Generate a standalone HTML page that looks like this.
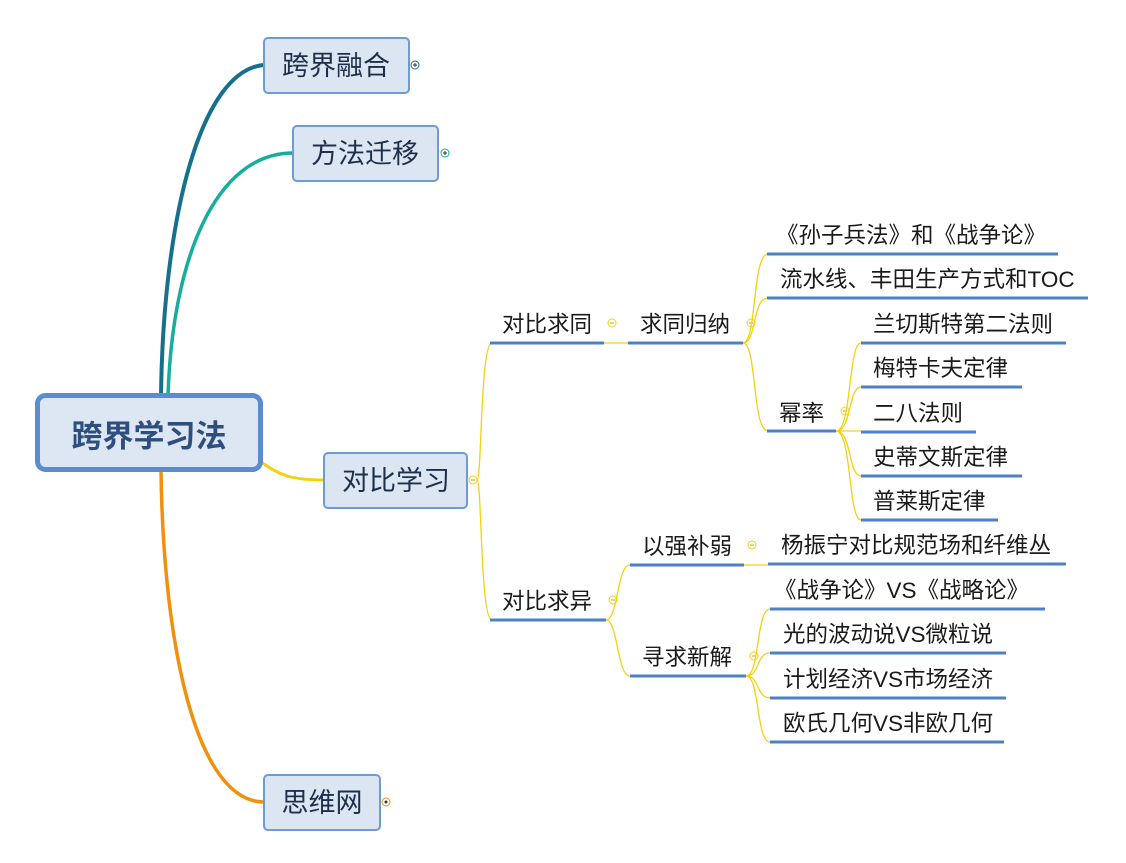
<!DOCTYPE html>
<html><head><meta charset="utf-8">
<style>
html,body{margin:0;padding:0;background:#fff;}
svg{display:block;}
text{font-family:"Liberation Sans","Noto Sans CJK SC",sans-serif;fill:#1a1a1a;}
</style></head>
<body>
<svg width="1126" height="863" viewBox="0 0 1126 863" xmlns="http://www.w3.org/2000/svg">
<!-- main branches -->
<path d="M161 397 C163 220 200 70 264 65" fill="none" stroke="#17708b" stroke-width="4"/>
<path d="M168 397 C172 260 215 153 293 153" fill="none" stroke="#17ad9c" stroke-width="3.5"/>
<path d="M161 470 C163 640 195 802 264 802" fill="none" stroke="#f0900c" stroke-width="3.5"/>
<path d="M261 462 C280 475 290 480 324 480" fill="none" stroke="#f5d010" stroke-width="3"/>

<!-- central -->
<rect x="37.5" y="395.5" width="223" height="74" rx="8" fill="#dde7f3" stroke="#5a8ccf" stroke-width="5"/>
<text x="149" y="447" font-size="31" font-weight="bold" text-anchor="middle" style="fill:#2e4f7e">跨界学习法</text>

<!-- topics -->
<g stroke="#6e9bd3" stroke-width="2" fill="#dce6f2">
<rect x="264" y="38" width="145" height="55" rx="4"/>
<rect x="293" y="126" width="145" height="55" rx="4"/>
<rect x="324" y="453" width="143" height="55" rx="4"/>
<rect x="264" y="775" width="116" height="55" rx="4"/>
</g>
<g font-size="27" text-anchor="middle">
<text x="336" y="75" style="fill:#1f2f4a">跨界融合</text>
<text x="365" y="163" style="fill:#1f2f4a">方法迁移</text>
<text x="396" y="490" style="fill:#1f2f4a">对比学习</text>
<text x="322" y="812" style="fill:#1f2f4a">思维网</text>
</g>
<!-- icons -->
<g fill="#fff" stroke-width="1">
<circle cx="415" cy="65" r="4" stroke="#17708b"/>
<circle cx="445" cy="153" r="4" stroke="#17ad9c"/>
<circle cx="386" cy="802" r="4" stroke="#f0900c"/>
<circle cx="473" cy="480" r="4" stroke="#f5d010"/>
<circle cx="612" cy="323" r="4" stroke="#f5d010"/>
<circle cx="613" cy="600" r="4" stroke="#f5d010"/>
<circle cx="751" cy="323" r="4" stroke="#f5d010"/>
<circle cx="845" cy="411" r="4" stroke="#f5d010"/>
<circle cx="752" cy="545" r="4" stroke="#f5d010"/>
<circle cx="754" cy="656" r="4" stroke="#f5d010"/>
</g>
<g stroke="#333" stroke-width="1">
<path d="M413 65h4M415 63v4M443 153h4M445 151v4"/>
</g>
<g fill="#333"><circle cx="386" cy="802" r="1.5"/></g>
<g stroke="#c9a800" stroke-width="1">
<path d="M471 480h4M610 323h4M611 600h4M749 323h4M843 411h4M750 545h4M752 656h4"/>
</g>

<!-- yellow connectors -->
<g fill="none" stroke="#f5d010" stroke-width="1.3">
<path d="M477 480 C482 480 480 343 492 343"/>
<path d="M477 480 C482 480 480 620 492 620"/>
<path d="M604 343 H628"/>
<path d="M606 620 C618 620 617 565 630 565"/>
<path d="M606 620 C618 620 617 676 630 676"/>
<path d="M743 343 C757 343 752 254 768 254"/>
<path d="M743 343 C757 343 752 298 768 298"/>
<path d="M743 343 C757 343 752 431 768 431"/>
<path d="M836 431 C852 431 848 343 861 343"/>
<path d="M836 431 C852 431 848 387 861 387"/>
<path d="M836 431 H861"/>
<path d="M836 431 C852 431 848 476 861 476"/>
<path d="M836 431 C852 431 848 520 861 520"/>
<path d="M744 565 H768"/>
<path d="M746 676 C760 676 756 609 770 609"/>
<path d="M746 676 C760 676 756 653 770 653"/>
<path d="M746 676 C760 676 756 698 770 698"/>
<path d="M746 676 C760 676 756 742 770 742"/>
</g>

<!-- underlines -->
<g stroke="#4d80c4" stroke-width="3">
<path d="M490 343H604M490 620H606M628 343H743M630 565H744M630 676H746"/>
<path d="M767 254H1058M767 298H1088M767 431H836"/>
<path d="M861 343H1066M861 387H1022M861 432H976M861 476H1022M861 520H998"/>
<path d="M768 564H1066M770 609H1045M770 653H1006M770 698H1006M770 742H1004"/>
</g>

<!-- labels -->
<g font-size="22.5">
<text x="502" y="332">对比求同</text>
<text x="502" y="609">对比求异</text>
<text x="640" y="332">求同归纳</text>
<text x="642" y="554">以强补弱</text>
<text x="642" y="665">寻求新解</text>
<text x="776" y="243">《孙子兵法》和《战争论》</text>
<text x="780" y="287">流水线、丰田生产方式和TOC</text>
<text x="779" y="421">幂率</text>
<text x="873" y="332">兰切斯特第二法则</text>
<text x="873" y="376">梅特卡夫定律</text>
<text x="873" y="421">二八法则</text>
<text x="873" y="465">史蒂文斯定律</text>
<text x="873" y="509">普莱斯定律</text>
<text x="781" y="553">杨振宁对比规范场和纤维丛</text>
<text x="774" y="598">《战争论》VS《战略论》</text>
<text x="783" y="642">光的波动说VS微粒说</text>
<text x="783" y="687">计划经济VS市场经济</text>
<text x="783" y="731">欧氏几何VS非欧几何</text>
</g>
</svg>
</body></html>
